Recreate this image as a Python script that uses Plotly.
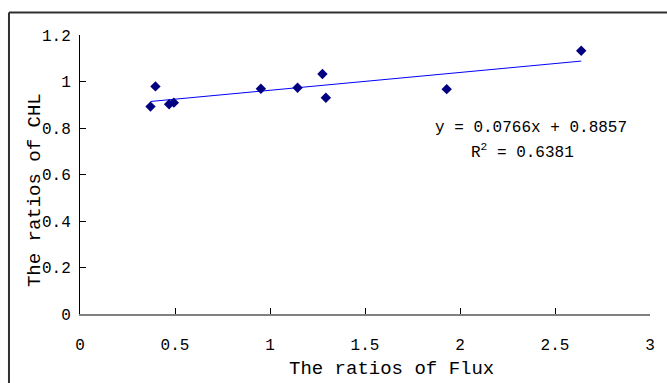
import plotly.graph_objects as go

# Data
flux_ratio = [0.371, 0.397, 0.469, 0.494, 0.952, 1.145, 1.276, 1.294, 1.930, 2.638]
chl_ratio = [0.892, 0.979, 0.902, 0.909, 0.969, 0.973, 1.032, 0.930, 0.967, 1.132]

# Trend line coefficients (from the chart's equation label)
slope = 0.0766
intercept = 0.8857
r_squared = 0.6381

x_ticks = [0, 0.5, 1, 1.5, 2, 2.5, 3]
y_ticks = [0, 0.2, 0.4, 0.6, 0.8, 1, 1.2]

FONT = "Liberation Mono"

trend_x = [min(flux_ratio), max(flux_ratio)]
trend_y = [slope * v + intercept for v in trend_x]

fig = go.Figure()
fig.add_trace(go.Scatter(
    x=trend_x, y=trend_y, mode="lines",
    line=dict(color="#0000FF", width=1), hoverinfo="skip", showlegend=False))
fig.add_trace(go.Scatter(
    x=flux_ratio, y=chl_ratio, mode="markers",
    marker=dict(symbol="diamond", size=8, color="#000080"), showlegend=False))

frame_line = dict(color="#303030", width=2)

fig.update_layout(
    width=667, height=383,
    margin=dict(l=80, r=17, t=35, b=69),
    paper_bgcolor="white", plot_bgcolor="white",
    font=dict(family=FONT, color="black", size=16),
    xaxis=dict(
        range=[0, 3], tickvals=x_ticks, ticktext=[str(v) for v in x_ticks],
        showgrid=False, zeroline=False,
        showline=True, linecolor="#808080", linewidth=2,
        ticks="inside", ticklen=6, tickcolor="black", tickwidth=1,
        ticklabelstandoff=15,
        tickfont=dict(family=FONT, size=16, color="black"),
    ),
    yaxis=dict(
        range=[0, 1.2], tickvals=y_ticks, ticktext=[str(v) for v in y_ticks],
        showgrid=False, zeroline=False,
        showline=True, linecolor="black", linewidth=1,
        ticks="inside", ticklen=6, tickcolor="black", tickwidth=1,
        ticklabelstandoff=5,
        tickfont=dict(family=FONT, size=16, color="black"),
    ),
    annotations=[
        dict(text="The ratios of Flux", xref="paper", yref="paper",
             x=0.5465, y=-0.197, xanchor="center", yanchor="middle",
             showarrow=False, font=dict(family=FONT, size=19, color="black")),
        dict(text="The ratios of CHL", xref="paper", yref="paper",
             x=-0.0790, y=0.444, xanchor="center", yanchor="middle",
             textangle=-90,
             showarrow=False, font=dict(family=FONT, size=19, color="black")),
        dict(text=f"y = {slope}x + {intercept}", xref="x", yref="y",
             x=2.376, y=0.80, xanchor="center", yanchor="middle",
             showarrow=False, font=dict(family=FONT, size=16, color="black")),
        dict(text=f"R<sup>2</sup> = {r_squared}", xref="x", yref="y",
             x=2.329, y=0.697, xanchor="center", yanchor="middle",
             showarrow=False, font=dict(family=FONT, size=16, color="black")),
    ],
    shapes=[
        # outer chart-area frame: only its left and top edges are in view
        dict(type="line", xref="paper", yref="paper",
             x0=-0.1246, x1=-0.1246, y0=-0.3, y1=1.0806, line=frame_line),
        dict(type="line", xref="paper", yref="paper",
             x0=-0.1246, x1=1.1, y0=1.0806, y1=1.0806, line=frame_line),
    ],
)

# remove the default page margin so the figure fills the window exactly
fig.write_html(
    "out.html",
    config={"displayModeBar": False},
    post_script=(
        "document.body.style.margin='0';"
        "document.body.style.overflow='hidden';"
        "document.documentElement.style.overflow='hidden';"
    ),
)
